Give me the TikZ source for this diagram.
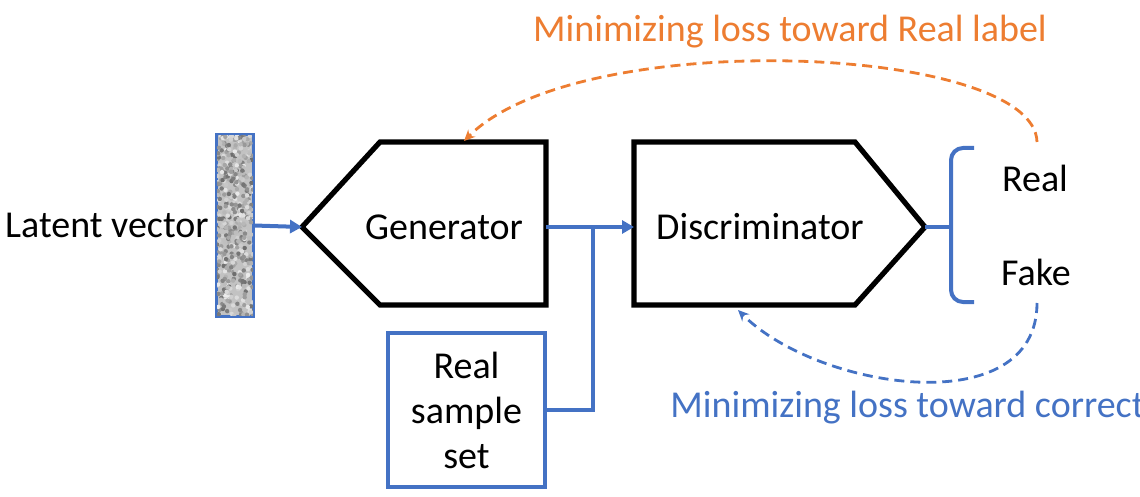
\documentclass[tikz,border=0pt]{standalone}
\usepackage{fontspec}
\setmainfont{Carlito}
\definecolor{ganblue}{RGB}{68,114,196}
\definecolor{ganorange}{RGB}{237,125,49}
\usetikzlibrary{arrows.meta,positioning,calc}
\tikzset{
  block/.style={draw=black, line width=2.6pt, line join=miter},
  wire/.style={draw=ganblue, line width=2pt},
  flow/.style={wire, -{Triangle[length=6pt,width=6.5pt]}},
  lbl/.style={font=\fontsize{19}{22.5}\selectfont, inner sep=0pt, align=center},
  loss/.style={dashed, dash pattern=on 5pt off 3pt, line width=1.4pt,
              -{Stealth[length=5.5pt,width=5pt]}},
  latent/.style={draw=ganblue, line width=1pt, fill=gray!48, inner sep=0pt,
              minimum width=18pt, minimum height=90.5pt},
  samplebox/.style={draw=ganblue, line width=2pt, minimum width=78.5pt,
              minimum height=77pt, inner sep=0pt},
}

\begin{document}
\begin{tikzpicture}[x=0.5pt, y=-0.5pt]
  \useasboundingbox (0,0) rectangle (1140,497);
  \clip (0,0) rectangle (1140,497);

  % latent vector
  \node[latent] (lat) at (235,225.5) {};
  \begin{scope}
    \clip (lat.south west) rectangle (lat.north east);
    \pgfmathsetseed{11}
    \foreach \i in {1,...,500} {
      \pgfmathsetmacro{\nx}{217+36*rnd}
      \pgfmathsetmacro{\ny}{135+181*rnd}
      \pgfmathsetmacro{\ns}{int(8+50*rnd)}
      \fill[black!\ns] (\nx,\ny) circle (1.1pt);
    }
  \end{scope}
  \draw[ganblue, line width=1pt] (lat.south west) rectangle (lat.north east);
  \node[lbl, left=3.5pt of lat] (latlbl) {Latent vector};

  % generator
  \coordinate (gtip) at (302,227);
  \coordinate (gout) at (546,227);
  \draw[block] (gtip) -- (380,142) -- (546,142) -- (546,305) -- (380,305) -- cycle;
  \node[lbl] (gen) at (444,227) {Generator};

  % discriminator
  \coordinate (din) at (634,227);
  \coordinate (dtip) at (925,227);
  \draw[block] (634,142) -- (855,142) -- (dtip) -- (855,305) -- (634,305) -- cycle;
  \node[lbl] (disc) at (760,227) {Discriminator};

  % real samples
  \node[samplebox] (real) at (466.5,410) {};
  \node[lbl] (reallbl) at (real.center) {Real\\sample\\set};
  \coordinate (join) at (593,227);

  \draw[flow] (lat.east) -- (gtip);
  \draw[flow] (gout) -- (din);
  \draw[wire] (real.east) -| (join);

  % output brace
  \coordinate (brace) at (951,227);
  \draw[wire] (dtip) -- (brace);
  \draw[wire, rounded corners=6pt] (974,148) -| (brace) |- (974,302);
  \node[lbl] (outreal) at (1035,178) {Real};
  \node[lbl] (outfake) at (1036,272) {Fake};

  % feedback
  \coordinate (gback) at (1037,142);
  \coordinate (ggoal) at (464,141);
  \draw[loss, ganorange] (gback) .. controls (1035,45) and (580,25) .. (ggoal);
  \node[lbl, text=ganorange] (glosslbl) at (790,32) {Minimizing loss toward Real label};

  \coordinate (dback) at (1037,303);
  \coordinate (dgoal) at (738,310);
  \draw[loss, ganblue] (dback) .. controls (1037,423) and (818,390) .. (dgoal);
  \node[lbl, text=ganblue, anchor=west] (dlosslbl) at (670,408) {Minimizing loss toward correct};
\end{tikzpicture}
\end{document}
